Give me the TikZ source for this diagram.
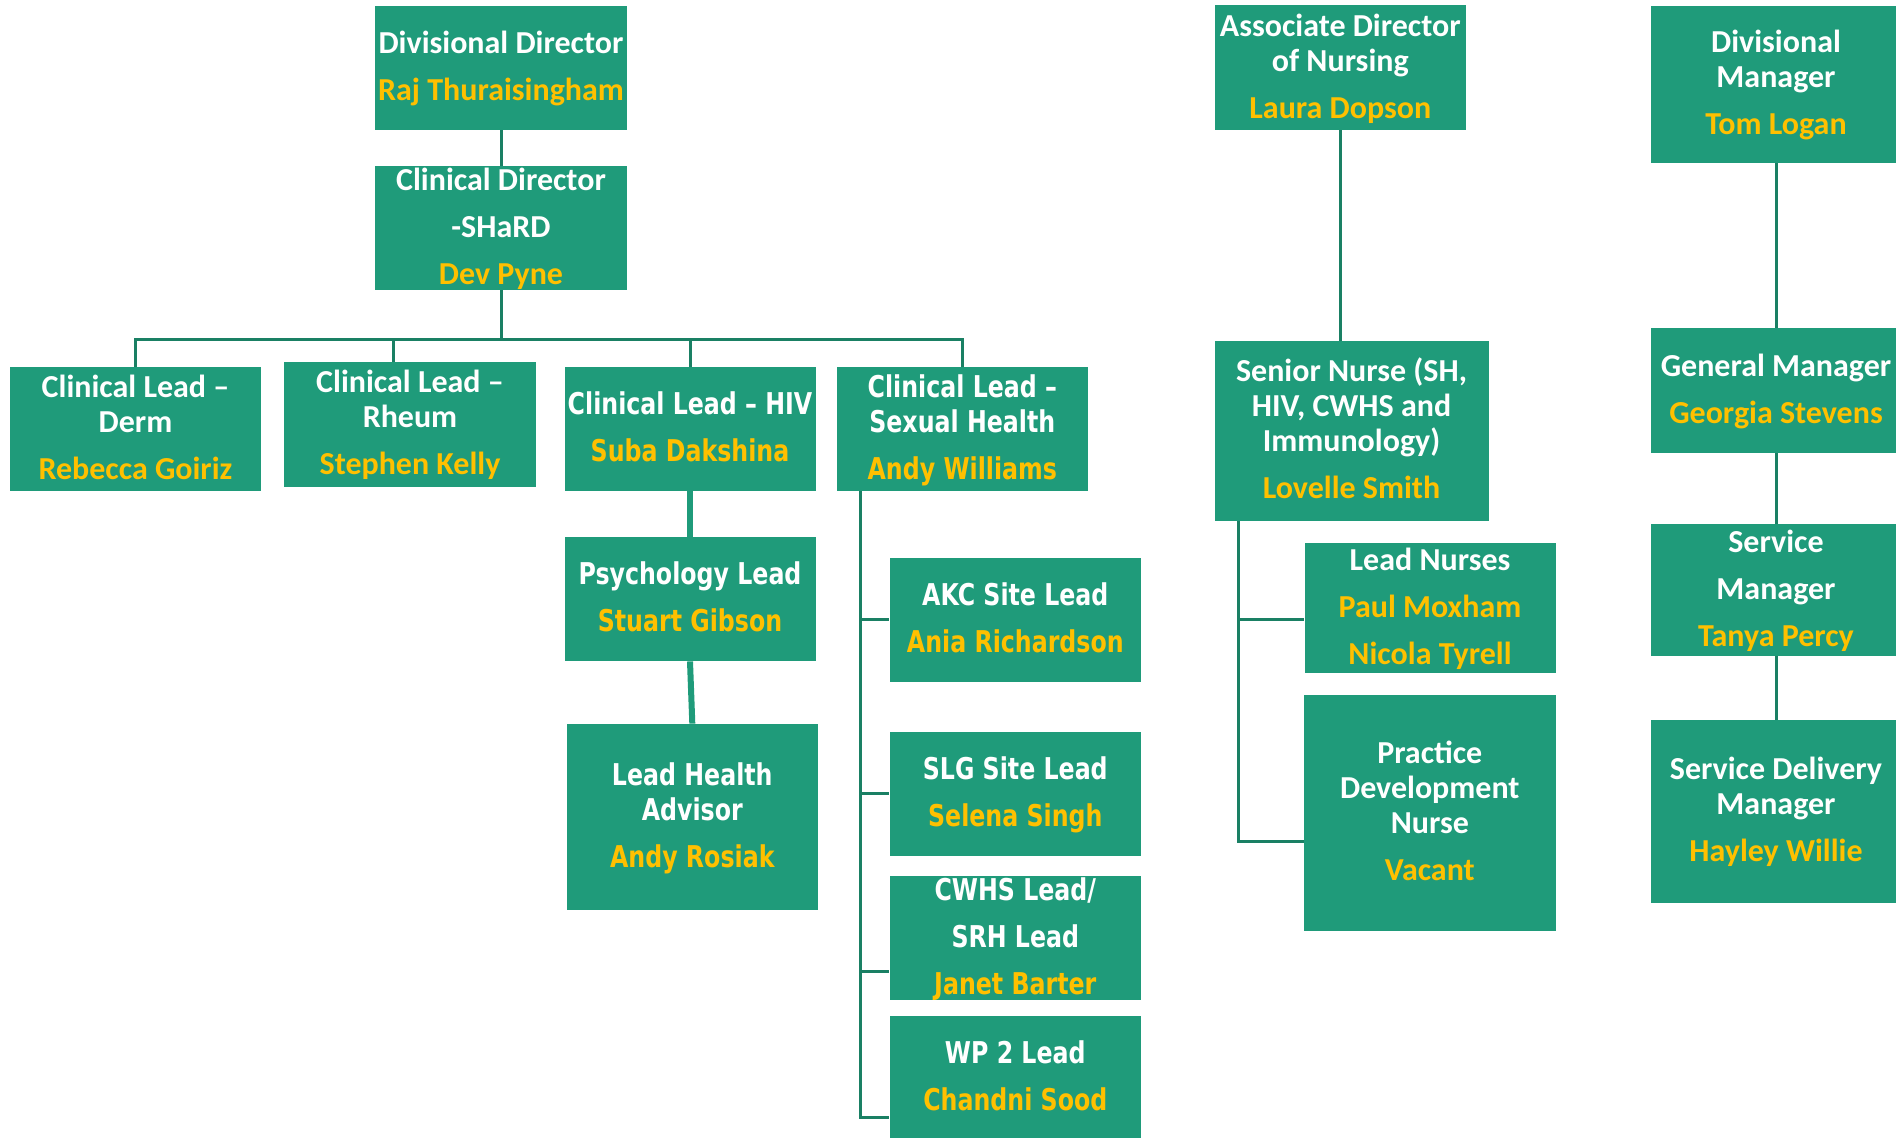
\documentclass[tikz,border=0pt]{standalone}
\usepackage{fontspec}
\newfontfamily\calfam{Carlito}
\newfontfamily\verfam{DejaVu Sans}[FakeStretch=0.79]
\definecolor{boxgreen}{RGB}{31,155,122}
\definecolor{linegreen}{RGB}{26,128,100}
\definecolor{namey}{RGB}{255,192,0}
\newcommand\tline[1]{\rule[-2.8pt]{0pt}{15pt}\smash{#1}}
\newcommand\nm[1]{\textcolor{namey}{\tline{#1}}}
\newcommand\fixskip{\lineskiplimit=-100pt\lineskip=0pt}
\tikzset{
  box/.style={rectangle, fill=boxgreen, draw=none, inner sep=0pt, align=center, text=white},
  cal/.style={font=\calfam\bfseries\fontsize{16}{17.5}\selectfont\fixskip},
  ver/.style={font=\verfam\bfseries\fontsize{15}{17.5}\selectfont\fixskip},
  wh/.style 2 args={minimum width=#1*0.5pt, minimum height=#2*0.5pt},
  conn/.style={line width=1.5pt, draw=linegreen},
  thickconn/.style={line width=3pt, draw=boxgreen},
}
\begin{document}
\begin{tikzpicture}[x=0.5pt,y=-0.5pt]
\useasboundingbox (0,0) rectangle (1896,1137);
\clip (0,0) rectangle (1896,1137);
% left column
\node[box,cal,wh={252}{124}] (dd) at (501,68) {\tline{Divisional Director}\\[6pt]\nm{Raj Thuraisingham}};
\node[box,cal,wh={252}{124}] (cd) at (501,228) {\tline{Clinical Director}\\[6pt]\tline{-SHaRD}\\[6pt]\nm{Dev Pyne}};
\node[box,cal,wh={251}{124}] (derm) at (135.5,429) {\tline{Clinical Lead –}\\\tline{Derm}\\[6pt]\nm{Rebecca Goiriz}};
\node[box,cal,wh={251.5}{125}] (rheum) at (410,424.5) {\tline{Clinical Lead –}\\\tline{Rheum}\\[6pt]\nm{Stephen Kelly}};
\node[box,ver,wh={251}{124}] (hiv) at (690,429) {\tline{Clinical Lead – HIV}\\[6pt]\nm{Suba Dakshina}};
\node[box,ver,wh={251.4}{124}] (sh) at (962.3,429) {\tline{Clinical Lead –}\\\tline{Sexual Health}\\[6pt]\nm{Andy Williams}};
\node[box,ver,wh={251}{124}] (psych) at (690,599) {\tline{Psychology Lead}\\[6pt]\nm{Stuart Gibson}};
\node[box,ver,wh={251.5}{186}] (lha) at (692.3,817) {\tline{Lead Health}\\\tline{Advisor}\\[6pt]\nm{Andy Rosiak}};
\node[box,ver,wh={251.5}{124}] (akc) at (1015.3,619.6) {\tline{AKC Site Lead}\\[6pt]\nm{Ania Richardson}};
\node[box,ver,wh={251.5}{124}] (slg) at (1015.3,793.5) {\tline{SLG Site Lead}\\[6pt]\nm{Selena Singh}};
\node[box,ver,wh={251.5}{124}] (cwhs) at (1015.3,938) {\tline{CWHS Lead/}\\[6pt]\tline{SRH Lead}\\[6pt]\nm{Janet Barter}};
\node[box,ver,wh={251.5}{124}] (wp2) at (1015.3,1078) {\tline{WP 2 Lead}\\[6pt]\nm{Chandni Sood}};
% nursing column
\node[box,cal,wh={251.4}{124.6}] (ad) at (1340.3,67.7) {\tline{Associate Director}\\\tline{of Nursing}\\[6pt]\nm{Laura Dopson}};
\node[box,cal,wh={274}{180}] (sn) at (1351.5,431) {\tline{Senior Nurse (SH,}\\\tline{HIV, CWHS and}\\\tline{Immunology)}\\[6pt]\nm{Lovelle Smith}};
\node[box,cal,wh={251}{130}] (ln) at (1430,608) {\tline{Lead Nurses}\\[6pt]\nm{Paul Moxham}\\[6pt]\nm{Nicola Tyrell}};
\node[box,cal,wh={251.5}{235.7}] (pdn) at (1429.8,812.9) {\tline{Practice}\\\tline{Development}\\\tline{Nurse}\\[6pt]\nm{Vacant}};
% management column
\node[box,cal,wh={251}{156.6}] (dm) at (1776,84.3) {\tline{Divisional}\\\tline{Manager}\\[6pt]\nm{Tom Logan}};
\node[box,cal,wh={251}{125}] (gm) at (1776,390.5) {\tline{General Manager}\\[6pt]\nm{Georgia Stevens}};
\node[box,cal,wh={251}{131.7}] (sm) at (1776,589.8) {\tline{Service}\\[6pt]\tline{Manager}\\[6pt]\nm{Tanya Percy}};
\node[box,cal,wh={251}{183}] (sdm) at (1776,811.5) {\tline{Service Delivery}\\\tline{Manager}\\[6pt]\nm{Hayley Willie}};
% connectors: directors
\coordinate (bus) at (501,339);
\coordinate (rhx) at (393,0);
\draw[conn] (dd.south) -- (cd.north);
\draw[conn] (cd.south) -- (bus);
\draw[conn] (derm.north) |- (bus);
\draw[conn] (rheum.north -| rhx) |- (bus);
\draw[conn] (hiv.north) |- (bus);
\draw[conn] (sh.north) |- (bus);
\draw[thickconn] (hiv.south) -- (psych.north);
\draw[thickconn] (psych.south) -- (lha.north);
% sexual health trunk
\coordinate (shx) at (860.3,0);
\coordinate (cwb) at ([yshift=-16.5pt]cwhs.west);
\coordinate (wpb) at ([yshift=-19.5pt]wp2.west);
\draw[conn] (sh.south -| shx) |- (wpb);
\draw[conn] (akc.west -| shx) -- (akc.west);
\draw[conn] (slg.west -| shx) -- (slg.west);
\draw[conn] (cwb -| shx) -- (cwb);
% nursing
\coordinate (snx) at (1238.6,0);
\coordinate (lnb) at ([yshift=-5.5pt]ln.west);
\coordinate (pdnb) at ([yshift=-14.4pt]pdn.west);
\draw[conn] (ad.south) -- (ad.south |- sn.north);
\draw[conn] (sn.south -| snx) |- (pdnb);
\draw[conn] (lnb -| snx) -- (lnb);
% management
\draw[conn] (dm.south) -- (gm.north);
\draw[conn] (gm.south) -- (sm.north);
\draw[conn] (sm.south) -- (sdm.north);
\end{tikzpicture}
\end{document}
